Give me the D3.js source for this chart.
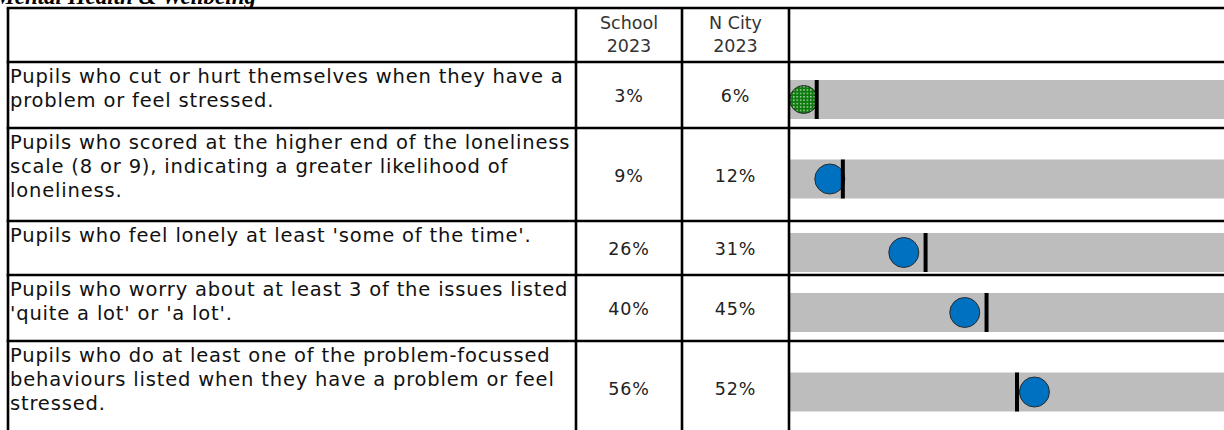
<!DOCTYPE html>
<html>
<head>
<meta charset="utf-8">
<script src="https://cdn.jsdelivr.net/npm/d3@7"></script>
<style>
  body { margin: 0; background: #fff; }
  svg { display: block; }
</style>
</head>
<body>
<div id="g"></div>
<script>
// ---- data ----
var title = "Mental Health & Wellbeing";
var headers = [["School", "2023"], ["N City", "2023"]];
var labels = [
    ["Pupils who cut or hurt themselves when they have a", "problem or feel stressed."],
    ["Pupils who scored at the higher end of the loneliness", "scale (8 or 9), indicating a greater likelihood of", "loneliness."],
    ["Pupils who feel lonely at least 'some of the time'."],
    ["Pupils who worry about at least 3 of the issues listed", "'quite a lot' or 'a lot'."],
    ["Pupils who do at least one of the problem-focussed", "behaviours listed when they have a problem or feel", "stressed."]
];
var schoolValues = [3, 9, 26, 40, 56];
var cityValues = [6, 12, 31, 45, 52];
var significant = [true, false, false, false, false];

// ---- layout ----
var W = 1224, H = 430;
var TOP = 8, HEADER_H = 54;
var COL_X = [8, 576, 682, 789];
var LINE_H = 24;
var BAR_H = 39;
var R = 15;
var FONT = "'DejaVu Sans', sans-serif";

var svg = d3.select("#g").append("svg")
    .attr("width", W)
    .attr("height", H);

var defs = svg.append("defs");
var pat = defs.append("pattern")
    .attr("id", "dots")
    .attr("patternUnits", "userSpaceOnUse")
    .attr("width", 3.4)
    .attr("height", 3.4);
pat.append("rect").attr("width", 3.4).attr("height", 3.4).attr("fill", "#0c7a0c");
pat.append("rect").attr("x", 1).attr("y", 1).attr("width", 1.2).attr("height", 1.2).attr("fill", "#fff");

// row geometry from number of lines
var rows = [];
var y0 = TOP + HEADER_H;
labels.forEach(function(lines, i) {
    var h = Math.max(54, 20 + LINE_H * lines.length);
    if (lines.length == 2) h = 66;
    if (lines.length == 3) h = 93;
    rows.push({ i: i, top: y0, h: h, lines: lines, school: schoolValues[i], city: cityValues[i], sig: significant[i] });
    y0 += h;
});

var x = d3.scaleLinear().domain([0, 100]).range([790.6, 1226]);

// title (clipped at the top of the page)
svg.append("text")
    .attr("x", 256)
    .attr("y", 4)
    .attr("text-anchor", "end")
    .attr("font-family", "'Liberation Serif', serif")
    .attr("font-weight", "bold")
    .attr("font-style", "italic")
    .attr("font-size", 23)
    .attr("fill", "#000")
    .text(title);

// grey bars
svg.selectAll("rect.bar")
    .data(rows)
    .enter()
    .append("rect")
    .attr("class", "bar")
    .attr("x", 788)
    .attr("y", function(d) { return d.top + d.h / 2 + 4.5 - BAR_H / 2; })
    .attr("width", W - 788)
    .attr("height", BAR_H)
    .attr("fill", "#bdbdbd");

// school circles
svg.selectAll("circle.school")
    .data(rows)
    .enter()
    .append("circle")
    .attr("class", "school")
    .attr("cx", function(d) { return x(d.school); })
    .attr("cy", function(d) { return d.top + d.h / 2 + 4.5; })
    .attr("r", function(d) { return d.sig ? 14 : R; })
    .attr("fill", function(d) { return d.sig ? "url(#dots)" : "#0070c0"; })
    .attr("stroke", "#2a2a2a")
    .attr("stroke-width", 1);

// city markers
svg.selectAll("line.city")
    .data(rows)
    .enter()
    .append("line")
    .attr("class", "city")
    .attr("x1", function(d) { return x(d.city); })
    .attr("x2", function(d) { return x(d.city); })
    .attr("y1", function(d) { return d.top + d.h / 2 + 4.5 - BAR_H / 2; })
    .attr("y2", function(d) { return d.top + d.h / 2 + 4.5 + BAR_H / 2; })
    .attr("stroke", "#000")
    .attr("stroke-width", 4);

// table grid
var grid = svg.append("g").attr("stroke", "#000").attr("stroke-width", 2.6);
var hLines = [TOP, TOP + HEADER_H].concat(rows.map(function(d) { return d.top + d.h; }));
grid.selectAll("line.h")
    .data(hLines)
    .enter()
    .append("line")
    .attr("x1", COL_X[0] - 1.3)
    .attr("x2", W)
    .attr("y1", function(d) { return d; })
    .attr("y2", function(d) { return d; });
grid.selectAll("line.v")
    .data(COL_X)
    .enter()
    .append("line")
    .attr("x1", function(d) { return d; })
    .attr("x2", function(d) { return d; })
    .attr("y1", TOP)
    .attr("y2", H + 10);

// header text
headers.forEach(function(hd, j) {
    var cx = (COL_X[j + 1] + COL_X[j + 2]) / 2;
    svg.selectAll(null)
        .data(hd)
        .enter()
        .append("text")
        .attr("x", cx)
        .attr("y", function(d, k) { return TOP + 15 + k * 23; })
        .attr("text-anchor", "middle")
        .attr("dominant-baseline", "central")
        .attr("font-family", FONT)
        .attr("font-size", 17.5)
        .attr("fill", "#333")
        .text(function(d) { return d; });
});

// row labels
var lbl = svg.selectAll("g.lbl")
    .data(rows)
    .enter()
    .append("g")
    .attr("class", "lbl");
lbl.selectAll("text")
    .data(function(d) { return d.lines.map(function(t, k) { return { t: t, y: d.top + 14 + k * LINE_H }; }); })
    .enter()
    .append("text")
    .attr("x", 10)
    .attr("y", function(d) { return d.y; })
    .attr("dominant-baseline", "central")
    .attr("font-family", FONT)
    .attr("font-size", 19.5)
    .attr("letter-spacing", 0.82)
    .attr("fill", "#111")
    .text(function(d) { return d.t; });

// values
[["school", 1], ["city", 2]].forEach(function(c) {
    svg.selectAll(null)
        .data(rows)
        .enter()
        .append("text")
        .attr("x", (COL_X[c[1]] + COL_X[c[1] + 1]) / 2)
        .attr("y", function(d) { return d.top + d.h / 2 + 1; })
        .attr("text-anchor", "middle")
        .attr("dominant-baseline", "central")
        .attr("font-family", FONT)
        .attr("font-size", 17.5)
        .attr("letter-spacing", 0.8)
        .attr("fill", "#222")
        .text(function(d) { return d[c[0]] + "%"; });
});
</script>
</body>
</html>
